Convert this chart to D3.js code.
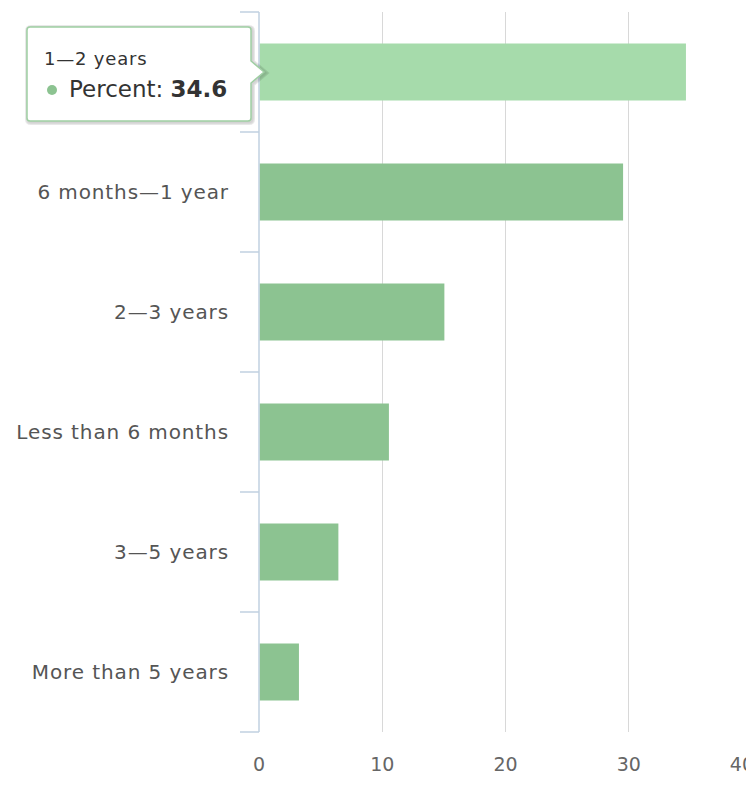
<!DOCTYPE html>
<html>
<head>
<meta charset="utf-8">
<script src="https://cdn.jsdelivr.net/npm/d3@7"></script>
<style>
  body { margin: 0; background: #fff; }
  svg { display: block; font-family: "DejaVu Sans", Verdana, sans-serif; }
</style>
</head>
<body>
<div id="chart"></div>
<script>
// data
var categories = ["1\u20142 years", "6 months\u20141 year", "2\u20143 years", "Less than 6 months", "3\u20145 years", "More than 5 years"];
var percents = [34.6, 29.5, 15.0, 10.5, 6.4, 3.2];
var x_ticks = [0, 10, 20, 30, 40];
var hovered_index = 0;
var series_name = "Percent";

var width = 746, height = 803;
var plot = { left: 259, right: 752, top: 12, bottom: 732 };
var colors = { bar: "#8cc391", bar_hover: "#a6dbab", grid: "#d8d8d8", axis: "#c0d0e0", label: "#555555", tick_label: "#666666" };

var svg = d3.select("#chart").append("svg").attr("width", width).attr("height", height);

var xScale = d3.scaleLinear().domain([0, 40]).range([plot.left, plot.right]);
var yScale = d3.scaleBand().domain(categories).range([plot.top, plot.bottom]).paddingInner(0.525).paddingOuter(0.2625);

//---------------------------------------------------------------- grid lines
svg.append("g").attr("class", "grid").selectAll("line").data(x_ticks.filter(d => d > 0)).join("line")
  .attr("x1", d => xScale(d)).attr("x2", d => xScale(d))
  .attr("y1", plot.top).attr("y2", plot.bottom)
  .attr("stroke", colors.grid).attr("stroke-width", 1).attr("shape-rendering", "crispEdges");

//---------------------------------------------------------------- bars
svg.append("g").attr("class", "bars").selectAll("rect").data(percents).join("rect")
  .attr("x", xScale(0) + 0.5)
  .attr("y", (d, i) => yScale(categories[i]))
  .attr("width", d => xScale(d) - xScale(0))
  .attr("height", yScale.bandwidth())
  .attr("fill", (d, i) => i == hovered_index ? colors.bar_hover : colors.bar);

//---------------------------------------------------------------- category axis
var step = yScale.step();
var cat_axis = svg.append("g").attr("class", "cat-axis");
cat_axis.append("line")
  .attr("x1", plot.left).attr("x2", plot.left).attr("y1", plot.top).attr("y2", plot.bottom)
  .attr("stroke", colors.axis).attr("stroke-width", 1.5);
cat_axis.selectAll(".tick").data(d3.range(categories.length + 1)).join("line").attr("class", "tick")
  .attr("x1", plot.left - 19).attr("x2", plot.left)
  .attr("y1", i => plot.top + i * step).attr("y2", i => plot.top + i * step)
  .attr("stroke", colors.axis).attr("stroke-width", 1.5);
cat_axis.selectAll("text").data(categories).join("text")
  .attr("x", plot.left - 30)
  .attr("y", d => yScale(d) + yScale.bandwidth() / 2)
  .attr("dy", "0.36em")
  .attr("text-anchor", "end")
  .attr("font-size", 20).attr("letter-spacing", 0.9)
  .attr("fill", colors.label)
  .text(d => d);

//---------------------------------------------------------------- value axis labels
// last label is pushed left to fit, like the original chart, and gets cut at the edge
svg.append("g").attr("class", "value-axis").selectAll("text").data(x_ticks).join("text")
  .attr("x", d => d == 40 ? plot.right + 2 : xScale(d))
  .attr("y", 771)
  .attr("text-anchor", d => d == 40 ? "end" : "middle")
  .attr("font-size", 19)
  .attr("fill", colors.tick_label)
  .text(d => d);

//---------------------------------------------------------------- tooltip
var tip = { x: 27, y: 27, w: 224, h: 94, r: 3 };
var tip_y = yScale(categories[hovered_index]) + yScale.bandwidth() / 2;
var tip_path = "M" + (tip.x + tip.r) + "," + tip.y +
  "H" + (tip.x + tip.w - tip.r) + "Q" + (tip.x + tip.w) + "," + tip.y + " " + (tip.x + tip.w) + "," + (tip.y + tip.r) +
  "V" + (tip_y - 11) + "L" + (tip.x + tip.w + 13) + "," + tip_y + "L" + (tip.x + tip.w) + "," + (tip_y + 11) +
  "V" + (tip.y + tip.h - tip.r) + "Q" + (tip.x + tip.w) + "," + (tip.y + tip.h) + " " + (tip.x + tip.w - tip.r) + "," + (tip.y + tip.h) +
  "H" + (tip.x + tip.r) + "Q" + tip.x + "," + (tip.y + tip.h) + " " + tip.x + "," + (tip.y + tip.h - tip.r) +
  "V" + (tip.y + tip.r) + "Q" + tip.x + "," + tip.y + " " + (tip.x + tip.r) + "," + tip.y + "Z";
var tooltip = svg.append("g").attr("class", "tooltip");
[3, 2, 1].forEach(function (k) {
  tooltip.append("path").attr("d", tip_path).attr("transform", "translate(1,1)")
    .attr("fill", "none").attr("stroke", "#000").attr("stroke-opacity", 0.03 * k).attr("stroke-width", k * 2);
});
tooltip.append("path").attr("d", tip_path)
  .attr("fill", "#ffffff").attr("stroke", "#9fcfa3").attr("stroke-width", 1.5);
tooltip.append("text").attr("x", 44).attr("y", 65)
  .attr("font-size", 18).attr("letter-spacing", 0.8).attr("fill", "#333")
  .text(categories[hovered_index]);
tooltip.append("circle").attr("cx", 52).attr("cy", 90).attr("r", 5).attr("fill", colors.bar);
var line2 = tooltip.append("text").attr("x", 69).attr("y", 97).attr("font-size", 23).attr("fill", "#333");
line2.append("tspan").text(series_name + ": ");
line2.append("tspan").attr("font-weight", "bold").text(percents[hovered_index].toFixed(1));
</script>
</body>
</html>
